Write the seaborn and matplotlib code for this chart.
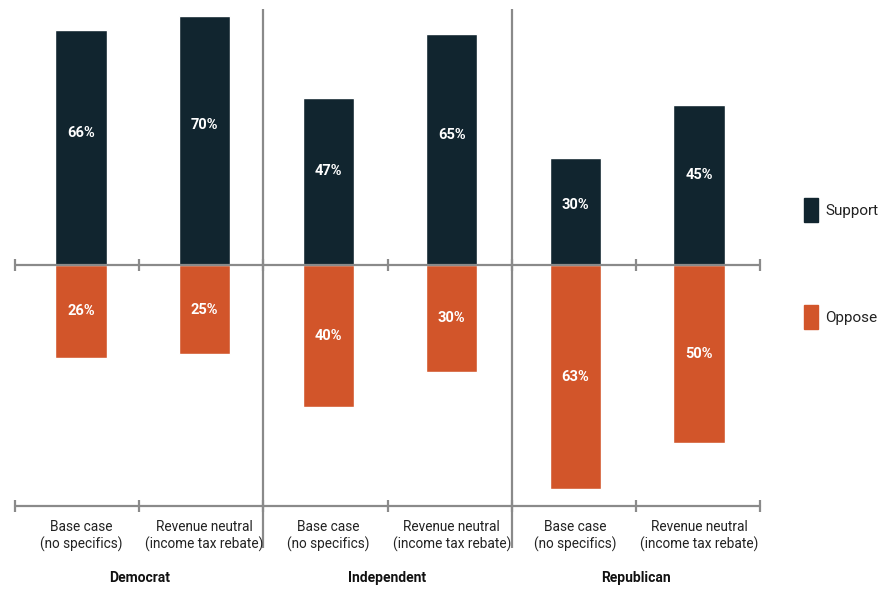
import matplotlib
matplotlib.use("Agg")
import matplotlib.pyplot as plt
import seaborn as sns
import pandas as pd
import numpy as np
from matplotlib.patches import Rectangle

groups = ["Democrat", "Independent", "Republican"]
cases = ["Base case\n(no specifics)", "Revenue neutral\n(income tax rebate)"]
support = [66, 70, 47, 65, 30, 45]
oppose = [26, 25, 40, 30, 63, 50]
series = ["Support", "Oppose"]
colors = {"Support": "#11252f", "Oppose": "#d2552a"}

sns.set_theme(style="white")
plt.rcParams['font.family'] = ['Roboto', 'DejaVu Sans']

slots = [f"{g}|{c}" for g in groups for c in cases]
rows = []
for i, s in enumerate(slots):
    rows.append({"slot": s, "series": "Support", "value": support[i]})
    rows.append({"slot": s, "series": "Oppose", "value": -oppose[i]})
df = pd.DataFrame(rows)

fig = plt.figure(figsize=(8.8, 5.89), dpi=100)
ax = fig.add_axes([15/880, (589-506)/589, 745/880, 497/589])
sns.barplot(data=df, x="slot", y="value", hue="series", order=slots,
            hue_order=series, palette=colors, dodge=False, width=0.415,
            saturation=1, ax=ax, legend=False)

ppu = 3.56
xa, xb = -0.534, 5.4935
ax.set_xlim(xa, xb)
ax.set_ylim(-(506-265)/ppu, (265-9)/ppu)
for sp in ax.spines.values():
    sp.set_visible(False)
ax.set_xticks([]); ax.set_yticks([])
ax.set_xlabel(""); ax.set_ylabel("")

lc = "#8a8a8a"
ybot = -(506-265)/ppu
ax.axhline(0, color=lc, lw=1.6, zorder=3)
ax.axhline(ybot, color=lc, lw=1.6, zorder=3, clip_on=False)
tick = 6/ppu
bounds = np.linspace(xa, xb, 7)
for y0 in (0, ybot):
    ax.vlines(bounds, y0 - tick, y0 + tick, color=lc, lw=1.6, zorder=3, clip_on=False)
ax.vlines(bounds[[2, 4]], -(548-265)/ppu, (265-9)/ppu, color=lc, lw=1.6, zorder=3, clip_on=False)

for i in range(len(slots)):
    ax.text(i, support[i]*0.56, f"{support[i]}%", ha="center", va="center",
            color="white", fontsize=10.5, fontweight="bold", zorder=4)
    ax.text(i, -oppose[i]*0.5, f"{oppose[i]}%", ha="center", va="center",
            color="white", fontsize=10.5, fontweight="bold", zorder=4)

for gi, g in enumerate(groups):
    for ci, c in enumerate(cases):
        x = gi*2 + ci
        ax.text(x, -(536-265)/ppu, c, ha="center", va="center", fontsize=9.8,
                color="#222222", linespacing=1.3, clip_on=False)
    ax.text(bounds[gi*2 + 1], -(578-265)/ppu, g, ha="center", va="center",
            fontsize=10, fontweight="bold", color="#111111", clip_on=False)

for s, ytop in (("Support", 198), ("Oppose", 305)):
    fig.add_artist(Rectangle((804/880, 1-(ytop+24)/589), 14/880, 24/589,
                             transform=fig.transFigure, color=colors[s]))
    fig.text(825/880, 1-(ytop+13)/589, s, ha="left", va="center", fontsize=11,
             color="#222222")

fig.savefig("out.png", dpi=100)
